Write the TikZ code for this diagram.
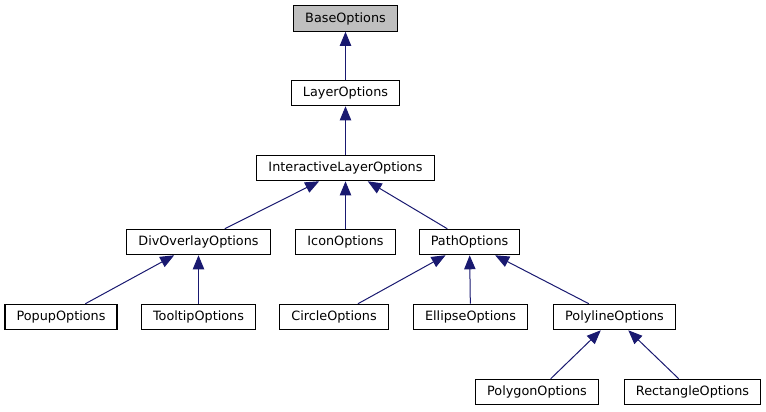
\documentclass[tikz,border=0pt]{standalone}
\usepackage{fontspec}
\setmainfont{DejaVu Sans}
\usepackage{tikz}
\usepackage{xcolor}
\usetikzlibrary{arrows.meta, positioning}

\definecolor{edgeblue}{HTML}{191970}
\definecolor{rootgray}{HTML}{BFBFBF}

\tikzset{
    cls/.style={draw=black, line width=0.9pt, fill=white, inner xsep=8.7pt,
                inner ysep=0pt, minimum height=19pt,
                font=\fontsize{9.6}{11}\selectfont},
    root/.style={cls, fill=rootgray},
    inherit/.style={draw=edgeblue, line width=0.75pt,
                    -{Triangle[length=10.5pt, width=8.5pt]}, edgeblue}
}

\begin{document}
\begin{tikzpicture}[x=0.75pt, y=-0.75pt]
    \useasboundingbox (0,0) rectangle (766,411);

    % Top of the hierarchy
    \node[root] (base) at (345.5,18.5) {BaseOptions};
    \node[cls] (layer) at (345.5,93) {LayerOptions};
    \node[cls] (interactive) at (345.5,168) {InteractiveLayerOptions};

    % Third row
    \node[cls] (divoverlay) at (198.5,242) {DivOverlayOptions};
    \node[cls] (icon) at (345.5,242) {IconOptions};
    \node[cls] (path) at (469.5,242) {PathOptions};

    % Fourth row
    \node[cls] (popup) at (61,317) {PopupOptions};
    \node[cls] (tooltip) at (198.5,317) {TooltipOptions};
    \node[cls] (circle) at (334,317) {CircleOptions};
    \node[cls] (ellipse) at (470.5,317) {EllipseOptions};
    \node[cls] (polyline) at (614.5,317) {PolylineOptions};

    % Bottom row
    \node[cls] (polygon) at (537,392) {PolygonOptions};
    \node[cls] (rectangle) at (692.5,392) {RectangleOptions};

    % Inheritance arrows (child to parent)
    \draw[inherit] (layer) -- (base);
    \draw[inherit] (interactive) -- (layer);
    \draw[inherit] (divoverlay) -- (interactive);
    \draw[inherit] (icon) -- (interactive);
    \draw[inherit] (path) -- (interactive);
    \draw[inherit] (popup) -- (divoverlay);
    \draw[inherit] (tooltip) -- (divoverlay);
    \draw[inherit] (circle) -- (path);
    \draw[inherit] (ellipse) -- (path);
    \draw[inherit] (polyline) -- (path);
    \draw[inherit] (polygon) -- (polyline);
    \draw[inherit] (rectangle) -- (polyline);
\end{tikzpicture}
\end{document}
